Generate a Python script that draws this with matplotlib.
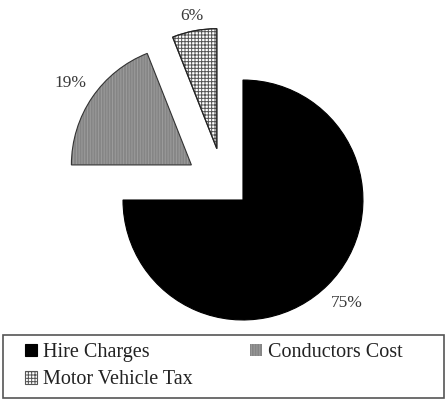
import matplotlib
matplotlib.use("Agg")
import numpy as np
import matplotlib.pyplot as plt
from matplotlib.patches import Wedge, Rectangle

categories = ["Hire Charges", "Conductors Cost", "Motor Vehicle Tax"]
shares = [75, 19, 6]
explode = [0.0, 0.52, 0.48]

plt.rcParams["font.family"] = ["Liberation Serif", "DejaVu Serif"]
plt.rcParams["hatch.linewidth"] = 0.7

fig = plt.figure(figsize=(4.46, 4.0), dpi=100)
ax = fig.add_axes([0, 0, 1, 1])

wedges, texts, autotexts = ax.pie(
    shares,
    explode=explode,
    startangle=90,
    counterclock=False,
    colors=["#000000", "#858585", "#ffffff"],
    autopct="%d%%",
    pctdistance=1.22,
    radius=1.0,
    wedgeprops=dict(edgecolor="black", linewidth=0.8),
    textprops=dict(fontsize=12.5, color="#3a3a3a"),
)

# pull the small tax slice out a little further to the left
tax = wedges[2]
ang = np.deg2rad(117)
new = explode[2] * np.array([np.cos(ang), np.sin(ang)])
tax.set_center(tuple(new))
mid = np.deg2rad((tax.theta1 + tax.theta2) / 2)
autotexts[2].set_position((new[0] + 1.13 * np.cos(mid), new[1] + 1.13 * np.sin(mid)))
tax.set_hatch("+++++")
tax.set_edgecolor("#555555")

# conductors cost: grey fill with fine vertical stripes, dark outline on top
w = wedges[1]
w.set_hatch("||||||")
w.set_edgecolor("#9c9c9c")
w.set_linewidth(0)
ax.add_patch(Wedge(w.center, w.r, w.theta1, w.theta2, fill=False,
                   edgecolor="#333333", linewidth=0.8))
ax.add_patch(Wedge(tax.center, tax.r, tax.theta1, tax.theta2, fill=False,
                   edgecolor="#222222", linewidth=0.9))

ax.set_aspect("equal")
ax.set_xlim(-2.025, 1.692)
ax.set_ylim(-1.667, 1.667)
ax.axis("off")

# legend filled row by row: Hire, Conductors / Tax
order = [0, 2, 1]
leg = fig.legend(
    [wedges[i] for i in order], [categories[i] for i in order],
    loc="upper left",
    bbox_to_anchor=(25 / 446, 1 - 343 / 400),
    ncol=2,
    fontsize=14.5,
    frameon=False,
    handlelength=0.6,
    handleheight=0.6,
    handletextpad=0.3,
    borderaxespad=0,
    borderpad=0,
    labelspacing=0.42,
    columnspacing=2.85,
)
for t in leg.get_texts():
    t.set_color("#222222")

fig.add_artist(Rectangle((3 / 446, 2 / 400), 441 / 446, 63 / 400,
                         transform=fig.transFigure, fill=False,
                         edgecolor="#555555", linewidth=1.2))

fig.savefig("out.png", dpi=100)
